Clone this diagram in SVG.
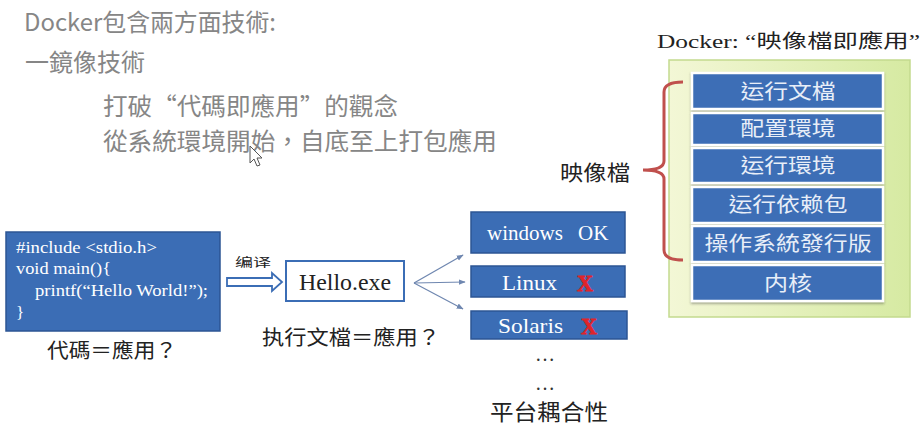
<svg xmlns="http://www.w3.org/2000/svg" width="923" height="431" viewBox="0 0 923 431">
<defs>
<linearGradient id="green" x1="0" y1="0" x2="1" y2="0">
<stop offset="0" stop-color="#f3f7d6"/>
<stop offset="1" stop-color="#d6eaa2"/>
</linearGradient>
<filter id="sh" x="-5%" y="-10%" width="110%" height="130%">
<feDropShadow dx="0" dy="1.5" stdDeviation="1.2" flood-color="#333" flood-opacity="0.45"/>
</filter>
<marker id="ah" viewBox="0 0 10 10" refX="9" refY="5" markerWidth="7" markerHeight="7" orient="auto" markerUnits="userSpaceOnUse">
<path d="M0,1 L10,5 L0,9 Z" fill="#6f87b0"/>
</marker>
</defs>
<style>
.gray{font-family:"Noto Sans CJK TC","Noto Sans",sans-serif;fill:#868686;font-size:24px}
.cjk{font-family:"Noto Sans CJK TC",sans-serif;fill:#222}
.serif{font-family:"Liberation Serif","Noto Sans CJK TC",serif}
.code{font-family:"Liberation Serif",serif;fill:#fff;font-size:17px}
.blue{fill:#3b6db5;stroke:#2d5594;stroke-width:1.5}
.layer{fill:#3c6eb6;stroke:#fff;stroke-width:2.5;filter:url(#sh)}
.lt{font-family:"Noto Sans CJK TC",sans-serif;fill:#e8eef8;font-size:20px;text-anchor:middle}
.wt{font-family:"Liberation Serif",serif;fill:#fff;font-size:21px}
.x{font-family:"Liberation Serif",serif;fill:#e0242a;stroke:#e0242a;stroke-width:0.8;font-size:23px;font-weight:bold}
.conn{stroke:#6f87b0;stroke-width:1.2;fill:none}
</style>

<g id="headings">
<text class="gray" x="24" y="31" textLength="252" lengthAdjust="spacingAndGlyphs">Docker包含兩方面技術:</text>
<text class="gray" x="25" y="71" textLength="120" lengthAdjust="spacingAndGlyphs">一鏡像技術</text>
<text class="gray" x="103" y="115" textLength="295" lengthAdjust="spacingAndGlyphs">打破“代碼即應用”的觀念</text>
<text class="gray" x="103" y="150" textLength="394" lengthAdjust="spacingAndGlyphs">從系統環境開始，自底至上打包應用</text>
</g>

<g id="cursor">
<path d="M250,146 L250,163 L254,159 L257,166 L260,165 L257,158 L262,158 Z" fill="#fff" stroke="#555" stroke-width="1"/>
</g>

<g id="code">
<rect class="blue" x="6" y="232" width="214" height="99"/>
<text class="code" x="16" y="253" textLength="141" lengthAdjust="spacingAndGlyphs">#include &lt;stdio.h&gt;</text>
<text class="code" x="16" y="274" textLength="95" lengthAdjust="spacingAndGlyphs">void main(){</text>
<text class="code" x="35" y="296" textLength="173" lengthAdjust="spacingAndGlyphs">printf(“Hello World!”);</text>
<text class="code" x="16" y="318">}</text>
<text class="cjk" x="47" y="358" font-size="20" textLength="130" lengthAdjust="spacingAndGlyphs">代碼＝應用？</text>
</g>

<g id="compile">
<path d="M227,278 L272,278 L272,273 L282,282 L272,291 L272,286 L227,286 Z" fill="#fff" stroke="#3b6db5" stroke-width="1.8"/>
<text class="cjk" x="235" y="267" font-size="12" fill="#444" textLength="36" lengthAdjust="spacingAndGlyphs">编译</text>
</g>

<g id="hello">
<rect x="286" y="261" width="118" height="40" fill="#fff" stroke="#3b6db5" stroke-width="2"/>
<text class="serif" x="345" y="290" font-size="24" text-anchor="middle" fill="#222" textLength="92" lengthAdjust="spacingAndGlyphs">Hello.exe</text>
<text class="cjk" x="262" y="345" font-size="20" textLength="178" lengthAdjust="spacingAndGlyphs">执行文檔＝應用？</text>
</g>

<g id="connectors">
<line class="conn" x1="414" y1="283" x2="463" y2="255" marker-end="url(#ah)"/>
<line class="conn" x1="414" y1="283" x2="465" y2="282" marker-end="url(#ah)"/>
<line class="conn" x1="414" y1="283" x2="463" y2="309" marker-end="url(#ah)"/>
</g>

<g id="windows">
<rect class="blue" x="471" y="212" width="154" height="41"/>
<text class="wt" x="487" y="240" font-size="20">windows</text>
<text class="wt" x="578" y="240" font-size="20">OK</text>
</g>
<g id="linux">
<rect class="blue" x="471" y="266" width="154" height="31"/>
<text class="wt" x="502" y="290" textLength="55" lengthAdjust="spacingAndGlyphs">Linux</text>
<text class="x" x="577" y="291" textLength="16" lengthAdjust="spacingAndGlyphs">X</text>
</g>
<g id="solaris">
<rect class="blue" x="471" y="311" width="156" height="28"/>
<text class="wt" x="498" y="333" textLength="65" lengthAdjust="spacingAndGlyphs">Solaris</text>
<text class="x" x="581" y="334" textLength="16" lengthAdjust="spacingAndGlyphs">X</text>
</g>
<g id="platform">
<text class="serif" x="545" y="361" font-size="20" text-anchor="middle" fill="#333">…</text>
<text class="serif" x="545" y="390" font-size="20" text-anchor="middle" fill="#333">…</text>
<text class="cjk" x="490" y="420" font-size="22" textLength="118" lengthAdjust="spacingAndGlyphs">平台耦合性</text>
</g>

<g id="docker-image">
<text class="serif" x="657" y="48" font-size="19" fill="#222" textLength="263" lengthAdjust="spacingAndGlyphs">Docker: “映像檔即應用”</text>
<rect x="669" y="60" width="241" height="257" fill="url(#green)" stroke="#c3da8e" stroke-width="1.5"/>
<g id="layer1"><rect class="layer" x="692" y="73" width="191" height="36"/><text class="lt" x="788" y="99" textLength="95" lengthAdjust="spacingAndGlyphs">运行文檔</text></g>
<g id="layer2"><rect class="layer" x="692" y="113" width="191" height="32"/><text class="lt" x="788" y="136" textLength="95" lengthAdjust="spacingAndGlyphs">配置環境</text></g>
<g id="layer3"><rect class="layer" x="692" y="148" width="191" height="35"/><text class="lt" x="788" y="173" textLength="95" lengthAdjust="spacingAndGlyphs">运行環境</text></g>
<g id="layer4"><rect class="layer" x="692" y="187" width="191" height="36"/><text class="lt" x="788" y="212" textLength="119" lengthAdjust="spacingAndGlyphs">运行依赖包</text></g>
<g id="layer5"><rect class="layer" x="692" y="226" width="191" height="36"/><text class="lt" x="788" y="251" textLength="167" lengthAdjust="spacingAndGlyphs">操作系統發行版</text></g>
<g id="layer6"><rect class="layer" x="692" y="265" width="191" height="36"/><text class="lt" x="788" y="291" textLength="48" lengthAdjust="spacingAndGlyphs">内核</text></g>
</g>

<g id="brace">
<path d="M683,82 Q664,82 664,92 L664,161 Q664,170 643,170 Q664,170 664,179 L664,250 Q664,260 683,260" fill="none" stroke="#c0504d" stroke-width="3"/>
<text class="cjk" x="560" y="180" font-size="21" textLength="70" lengthAdjust="spacingAndGlyphs">映像檔</text>
</g>
</svg>
